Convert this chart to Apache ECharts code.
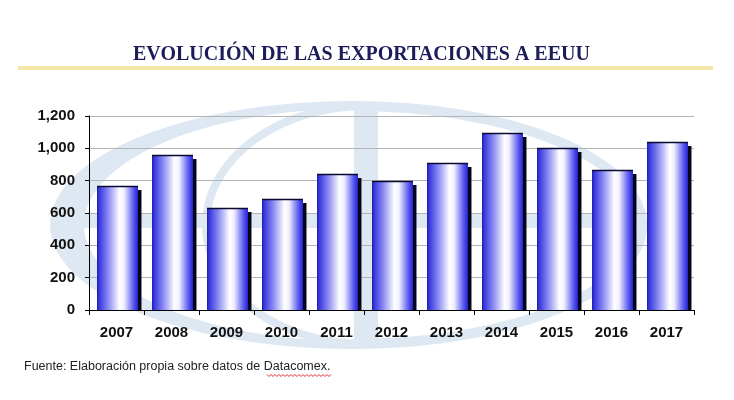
<!DOCTYPE html>
<html>
<head>
<meta charset="utf-8">
<script src="https://cdn.jsdelivr.net/npm/echarts@6/dist/echarts.min.js"></script>
<style>
html,body{margin:0;padding:0;background:#fff;}
#c{width:734px;height:400px;}
</style>
</head>
<body>
<div id="c"></div>
<script>
var categories = ['2007','2008','2009','2010','2011','2012','2013','2014','2015','2016','2017'];
var values = [766, 961, 632, 684, 842, 797, 910, 1095, 1005, 863, 1042];
var yTicks = [0, 200, 400, 600, 800, 1000, 1200];
var titleText = 'EVOLUCIÓN DE LAS EXPORTACIONES A EEUU';
var sourceText = 'Fuente: Elaboración propia sobre datos de Datacomex.';

var chart = echarts.init(document.getElementById('c'), null, {renderer: 'canvas'});
var wm = '#dde8f3';
function barGrad() {
  return new echarts.graphic.LinearGradient(0, 0, 1, 0, [
    {offset: 0, color: '#1c1ca8'},
    {offset: 0.05, color: '#3636de'},
    {offset: 0.28, color: '#8c8cf4'},
    {offset: 0.55, color: '#ffffff'},
    {offset: 0.66, color: '#f0f0ff'},
    {offset: 0.9, color: '#5454ee'},
    {offset: 1, color: '#2424d0'}
  ]);
}
function wave(x0, x1, y) {
  var pts = [];
  for (var x = x0, i = 0; x <= x1; x += 2, i++) pts.push([x, y + (i % 2 ? 1.5 : -0.5)]);
  return pts;
}
// half-ellipse arc helper for the decorative globe watermark (dir -1 = left half, 1 = right half)
function halfArc(cx, cy, rx, ry, dir, reverse) {
  var pts = [];
  for (var k = 0; k <= 60; k++) {
    var t = Math.PI * k / 60;
    pts.push([cx + dir * rx * Math.sin(t), cy - ry * Math.cos(t)]);
  }
  return reverse ? pts.reverse() : pts;
}
var crescent = halfArc(352, 225, 302, 124, -1, false).concat(halfArc(352, 225, 268, 116, -1, true));
var seriesData = values.map(function (v, i) { return [i, v]; });

chart.setOption({
  animation: false,
  backgroundColor: '#ffffff',
  title: {
    text: titleText,
    left: 133,
    top: 45,
    padding: 0,
    textStyle: {fontFamily: 'Liberation Serif', fontWeight: 'bold', fontSize: 20, color: '#1c1c5a'}
  },
  graphic: [
    {type: 'rect', z: -20, silent: true, shape: {x: 18, y: 66, width: 695, height: 4}, style: {fill: '#f2e6a8'}},
    {type: 'polygon', z: -20, silent: true, shape: {points: crescent}, style: {fill: wm}},
    {type: 'polyline', z: -20, silent: true, shape: {points: halfArc(352, 225, 290, 119, 1, false)}, style: {fill: 'none', stroke: wm, lineWidth: 10}},
    {type: 'polyline', z: -20, silent: true, shape: {points: halfArc(366, 225, 160, 119, -1, false)}, style: {fill: 'none', stroke: wm, lineWidth: 8}},
    {type: 'rect', z: -20, silent: true, shape: {x: 354, y: 104, width: 24, height: 242}, style: {fill: wm}},
    {type: 'rect', z: -20, silent: true, shape: {x: 80, y: 214, width: 565, height: 14}, style: {fill: wm}},
    {type: 'text', left: 24, top: 360, style: {text: sourceText, font: '12.5px "Liberation Sans", Arial, sans-serif', fill: '#222'}},
    {type: 'polyline', shape: {points: wave(267, 332, 375)}, style: {stroke: '#e03030', lineWidth: 1, fill: 'none'}}
  ],
  grid: {left: 89, right: 40, top: 116, bottom: 90, containLabel: false},
  xAxis: {
    type: 'category',
    data: categories,
    axisLine: {lineStyle: {color: '#000', width: 1}},
    axisTick: {show: true, length: 5, alignWithLabel: false, lineStyle: {color: '#000'}},
    axisLabel: {margin: 15, fontFamily: 'Liberation Sans', fontWeight: 'bold', fontSize: 15, color: '#111'},
    z: 10
  },
  yAxis: {
    type: 'value',
    min: 0, max: 1200, interval: 200,
    axisLine: {show: true, lineStyle: {color: '#000', width: 1}},
    axisTick: {show: true, length: 4, lineStyle: {color: '#000'}},
    splitLine: {lineStyle: {color: '#b4b4b4', width: 1}},
    axisLabel: {
      margin: 14, fontFamily: 'Liberation Sans', fontWeight: 'bold', fontSize: 15, color: '#111',
      formatter: function (v) { return v.toLocaleString('en-US'); }
    }
  },
  series: [{
    type: 'custom',
    data: seriesData,
    encode: {x: 0, y: 1},
    renderItem: function (params, api) {
      var idx = api.value(0);
      var top = api.coord([idx, api.value(1)]);
      var base = api.coord([idx, 0]);
      var bw = api.size([1, 0])[0] * 0.745;
      var x = Math.round(top[0] - bw / 2 + 1);
      var y = Math.round(top[1]);
      var h = base[1] - y;
      return {
        type: 'group',
        children: [
          {type: 'rect', shape: {x: x + 3.5, y: y + 4, width: bw, height: h - 4}, style: {fill: '#05051a'}},
          {type: 'rect', shape: {x: x, y: y, width: bw, height: h}, style: {fill: barGrad()}},
          {type: 'line', shape: {x1: x, y1: y + 0.5, x2: x + bw, y2: y + 0.5}, style: {stroke: '#0a0a30', lineWidth: 1.5}}
        ]
      };
    }
  }]
});
</script>
</body>
</html>
